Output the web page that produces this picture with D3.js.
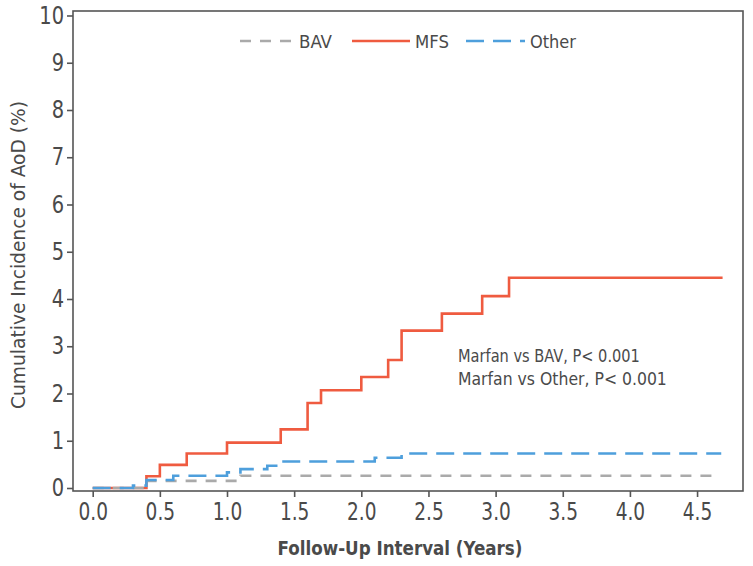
<!DOCTYPE html>
<html><head><meta charset="utf-8">
<script src="https://cdn.jsdelivr.net/npm/d3@7"></script>
<style>
body{margin:0;background:#fff;}
svg{display:block;}
</style></head>
<body><svg id="c" width="753" height="566"></svg>
<script>
const mfsTimes   = [0, 0.4, 0.5, 0.7, 1.0, 1.4, 1.6, 1.7, 2.0, 2.2, 2.3, 2.6, 2.9, 3.1, 4.69];
const mfsValues  = [0, 0.25, 0.49, 0.73, 0.96, 1.24, 1.80, 2.07, 2.35, 2.71, 3.33, 3.69, 4.06, 4.45, 4.45];
const otherTimes = [0, 0.3, 0.4, 0.6, 1.0, 1.1, 1.3, 1.4, 2.1, 2.3, 4.68];
const otherValues= [0, 0.05, 0.17, 0.26, 0.33, 0.40, 0.47, 0.56, 0.64, 0.73, 0.73];
const bavTimes   = [0, 0.4, 1.1, 4.65];
const bavValues  = [0, 0.15, 0.26, 0.26];
const xTicks = [0, 0.5, 1.0, 1.5, 2.0, 2.5, 3.0, 3.5, 4.0, 4.5];
const yTicks = [0,1,2,3,4,5,6,7,8,9,10];
const seriesNames = ["BAV", "MFS", "Other"];
const annotations = ["Marfan vs BAV, P< 0.001", "Marfan vs Other, P< 0.001"];

const FONT = '"Liberation Sans Narrow","DejaVu Sans Condensed","DejaVu Sans",sans-serif';
const svg = d3.select("#c").attr("font-family", FONT);
const L=73, R=743, T=11, B=491;
const x = d3.scaleLinear().domain([-0.1467, 4.842]).range([L, R]);
const y = d3.scaleLinear().domain([-0.0635, 10.095]).range([B, T]);
const txt = "#4a4a4a", axc = "#555";

// horizontal squeeze to emulate a condensed face at a given width
function fitX(sel, w, ax, ay, extra){
  const cur = sel.node().getComputedTextLength();
  const s = cur > 0 ? w / cur : 1;
  sel.attr("transform", `${extra||""} translate(${ax},${ay}) scale(${s},1) translate(${-ax},${-ay})`);
  return sel;
}

const mk = (ts, vs) => ts.map((t,i)=>[t, vs[i]]);
const series = [
  {name:"MFS", data: mk(mfsTimes, mfsValues), color:"#ef5b40", dash:null},
  {name:"BAV", data: mk(bavTimes, bavValues), color:"#aaaaaa", dash:"11,9"},
  {name:"Other", data: mk(otherTimes, otherValues), color:"#4e9fdc", dash:"18,9"}
];
const line = d3.line().x(d=>x(d[0])).y(d=>y(d[1])).curve(d3.curveStepAfter);
series.forEach(s=>{
  svg.append("path").attr("d", line(s.data)).attr("fill","none")
    .attr("stroke", s.color).attr("stroke-width", 2.6)
    .attr("stroke-dasharray", s.dash);
});

// frame
svg.append("rect").attr("x",L).attr("y",T).attr("width",R-L).attr("height",B-T)
  .attr("fill","none").attr("stroke",axc).attr("stroke-width",1.6);

const ya = svg.append("g").attr("transform",`translate(${L},0)`)
  .call(d3.axisLeft(y).tickValues(yTicks).tickFormat(d3.format("d")).tickSize(6).tickPadding(3));
const xa = svg.append("g").attr("transform",`translate(0,${B})`)
  .call(d3.axisBottom(x).tickValues(xTicks).tickFormat(d3.format(".1f")).tickSize(6).tickPadding(6));
[ya, xa].forEach(g=>{
  g.attr("font-family", FONT);
  g.select(".domain").remove();
  g.selectAll(".tick line").attr("stroke",axc).attr("stroke-width",1.6);
  g.selectAll(".tick text").attr("fill",txt).attr("font-size",24);
});
ya.selectAll(".tick text").attr("transform","translate(-9,0) scale(0.9,1) translate(9,0)");
xa.selectAll(".tick text").attr("transform","scale(0.86,1)");

const xt = svg.append("text").attr("x", 400).attr("y", 555).attr("text-anchor","middle")
  .attr("fill",txt).attr("font-size",20).attr("font-weight",700).text("Follow-Up Interval (Years)");
fitX(xt, 245, 400, 555);
const ytt = svg.append("text").attr("x",0).attr("y",0).attr("text-anchor","middle")
  .attr("fill",txt).attr("font-size",20).text("Cumulative Incidence of AoD (%)");
fitX(ytt, 308, 0, 0, "translate(25,255) rotate(-90)");

// annotation
const annW = [182, 209];
annotations.forEach((a,i)=>{
  const yy = 362+i*23;
  fitX(svg.append("text").attr("x",458).attr("y",yy).attr("fill",txt)
    .attr("font-size",17.5).text(a), annW[i], 458, yy);
});

// legend
const leg = [
  {name:seriesNames[0], color:"#aaaaaa", dash:"11,9", x0:240, x1:293, tx:299, w:33},
  {name:seriesNames[1], color:"#ef5b40", dash:null, x0:352, x1:410, tx:415, w:34},
  {name:seriesNames[2], color:"#4e9fdc", dash:"18,9", x0:466, x1:525, tx:530, w:46}
];
leg.forEach(l=>{
  svg.append("line").attr("x1",l.x0).attr("x2",l.x1).attr("y1",41).attr("y2",41)
    .attr("stroke",l.color).attr("stroke-width",2.6).attr("stroke-dasharray",l.dash);
  fitX(svg.append("text").attr("x",l.tx).attr("y",48).attr("fill",txt).attr("font-size",18).text(l.name), l.w, l.tx, 48);
});
</script></body></html>
